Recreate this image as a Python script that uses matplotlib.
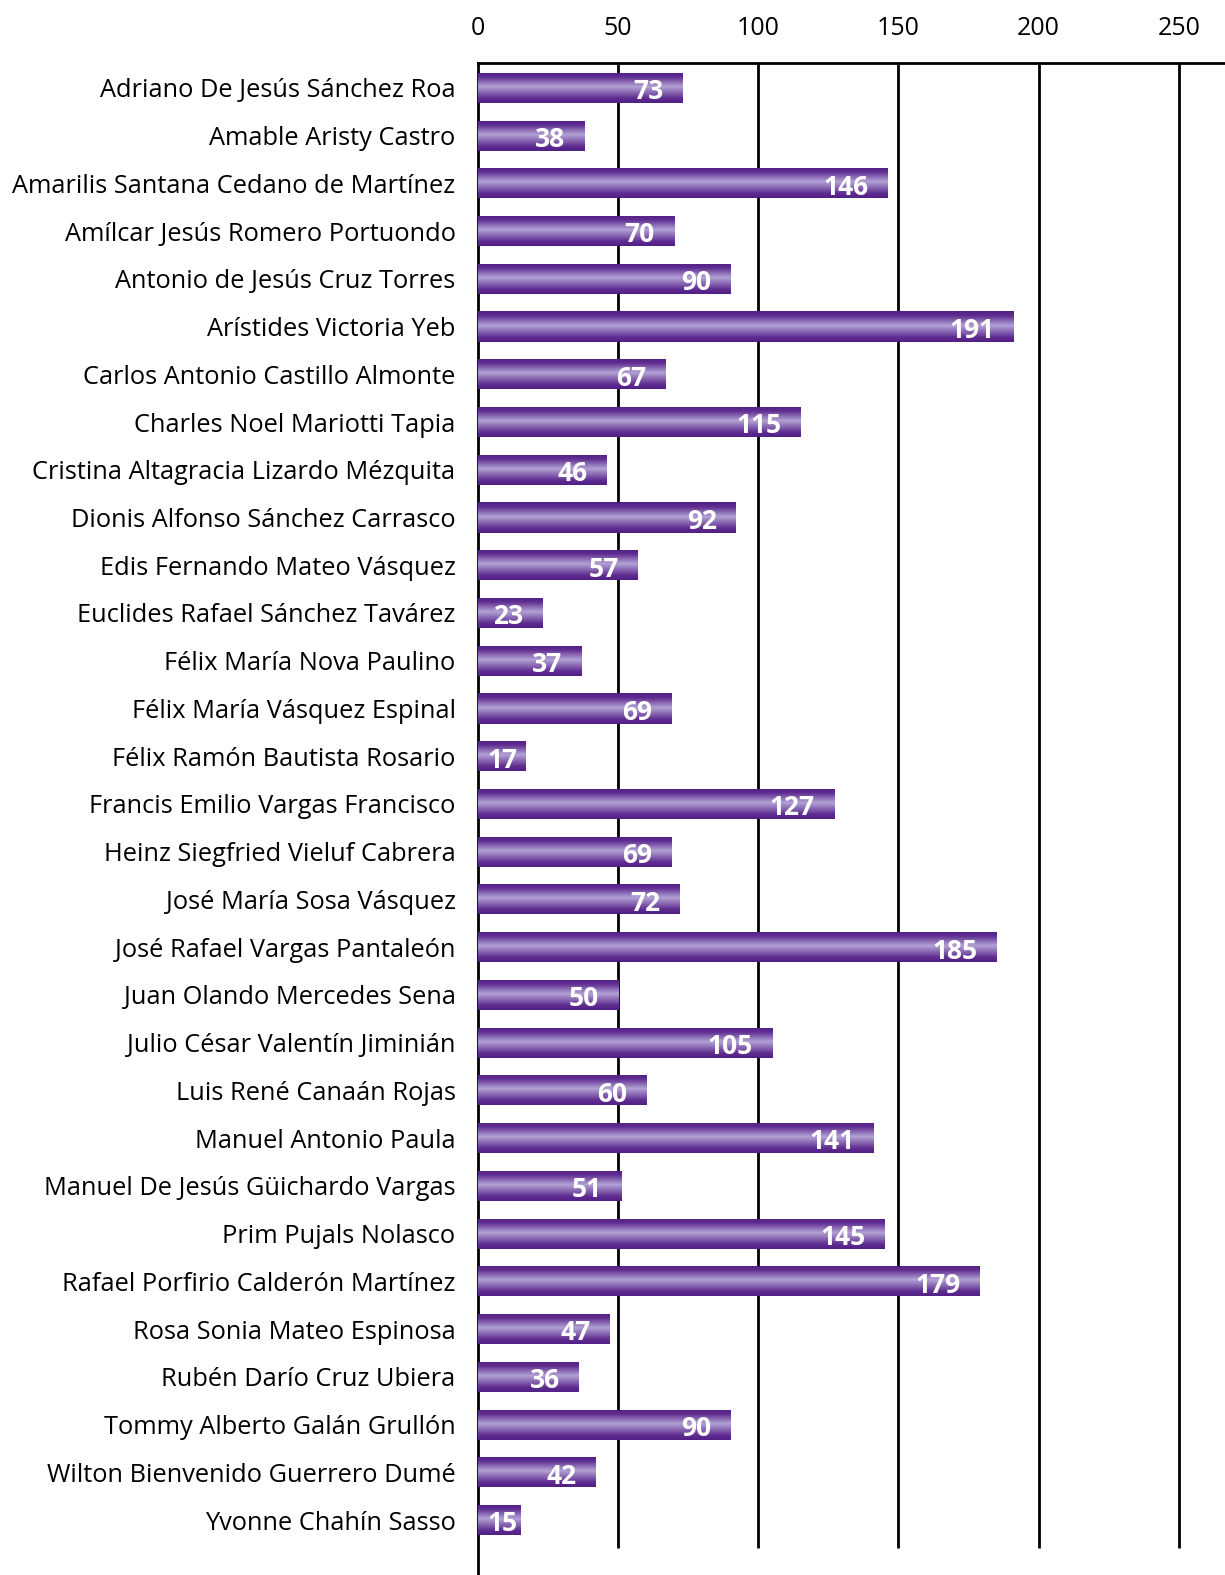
import numpy as np
import matplotlib.pyplot as plt
from matplotlib.colors import LinearSegmentedColormap

names = [
    "Adriano De Jesús Sánchez Roa",
    "Amable Aristy Castro",
    "Amarilis Santana Cedano de Martínez",
    "Amílcar Jesús Romero Portuondo",
    "Antonio de Jesús Cruz Torres",
    "Arístides Victoria Yeb",
    "Carlos Antonio Castillo Almonte",
    "Charles Noel Mariotti Tapia",
    "Cristina Altagracia Lizardo Mézquita",
    "Dionis Alfonso Sánchez Carrasco",
    "Edis Fernando Mateo Vásquez",
    "Euclides Rafael Sánchez Tavárez",
    "Félix María Nova Paulino",
    "Félix María Vásquez Espinal",
    "Félix Ramón Bautista Rosario",
    "Francis Emilio Vargas Francisco",
    "Heinz Siegfried Vieluf Cabrera",
    "José María Sosa Vásquez",
    "José Rafael Vargas Pantaleón",
    "Juan Olando Mercedes Sena",
    "Julio César Valentín Jiminián",
    "Luis René Canaán Rojas",
    "Manuel Antonio Paula",
    "Manuel De Jesús Güichardo Vargas",
    "Prim Pujals Nolasco",
    "Rafael Porfirio Calderón Martínez",
    "Rosa Sonia Mateo Espinosa",
    "Rubén Darío Cruz Ubiera",
    "Tommy Alberto Galán Grullón",
    "Wilton Bienvenido Guerrero Dumé",
    "Yvonne Chahín Sasso",
]
values = [73, 38, 146, 70, 90, 191, 67, 115, 46, 92, 57, 23, 37, 69, 17,
          127, 69, 72, 185, 50, 105, 60, 141, 51, 145, 179, 47, 36, 90, 42, 15]
xticks = [0, 50, 100, 150, 200, 250]

plt.rcParams['font.family'] = ['Open Sans', 'DejaVu Sans']

fig = plt.figure(figsize=(12.25, 15.75), dpi=100)
ax = fig.add_axes([0.390, 0.0, 0.610, 0.96])

n = len(values)
y = np.arange(n)
h = 0.63
bars = ax.barh(y, values, height=h, color='#5c2a8a', zorder=2)

# vertical gradient: dark edges, light stripe near the middle
cmap = LinearSegmentedColormap.from_list(
    'purp', [(0, '#521f86'), (0.15, '#5f2d90'), (0.47, '#b3a3d5'),
             (0.85, '#5f2d90'), (1, '#521f86')])
grad = np.linspace(0, 1, 64).reshape(-1, 1)
for b, yy, v in zip(bars, y, values):
    im = ax.imshow(grad, cmap=cmap, aspect='auto', interpolation='bilinear',
                   extent=(0, v, yy + h / 2, yy - h / 2), zorder=3)
    im.set_clip_path(b)

for yy, v in zip(y, values):
    if v - 7 >= 14:
        ax.text(v - 6.8, yy + 0.08, str(v), ha='right', va='center', color='white',
                fontsize=19, fontweight='bold', zorder=4)
    else:
        ax.text(3.5, yy + 0.08, str(v), ha='left', va='center', color='white',
                fontsize=19, fontweight='bold', zorder=4)

top = -0.52
bottom = n - 1 + 1.15
ax.set_ylim(bottom, top)
ax.set_xlim(0, 266.5)
ax.vlines(xticks[1:], top, n - 1 + 0.59, color='black', lw=2, zorder=1)

ax.set_yticks(y)
ax.set_yticklabels(names, fontsize=18.3)
ax.xaxis.tick_top()
ax.set_xticks(xticks)
ax.set_xticklabels([str(t) for t in xticks], fontsize=18)
ax.tick_params(axis='both', length=0)
ax.tick_params(axis='y', pad=16)
ax.tick_params(axis='x', pad=16)

for s in ['right', 'bottom']:
    ax.spines[s].set_visible(False)
ax.spines['left'].set_linewidth(2)
ax.spines['top'].set_linewidth(2)

fig.savefig('out.png', dpi=100)
